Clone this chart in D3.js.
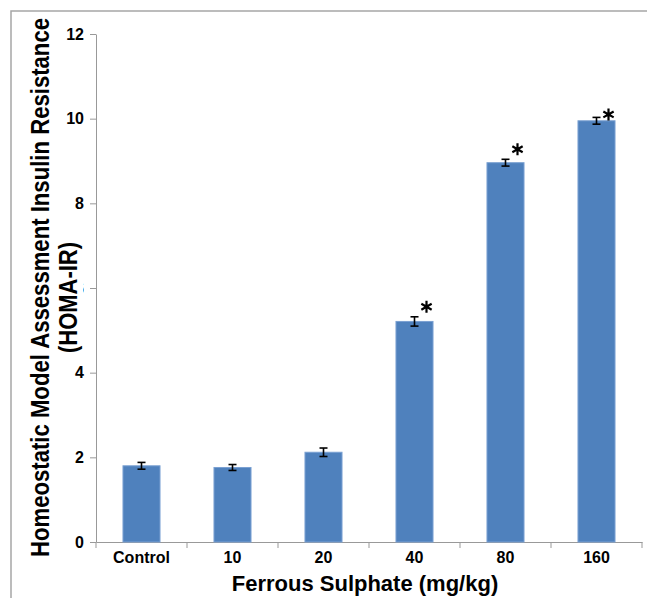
<!DOCTYPE html>
<html lang="en">
<head>
<meta charset="utf-8">
<title>HOMA-IR - Ferrous Sulphate</title>
<script src="https://d3js.org/d3.v7.min.js"></script>
<style>
  body { margin: 0; background: #fff; }
  svg text { font-family: "Liberation Sans", Arial, sans-serif; font-weight: bold; fill: #000; }
  .axis path, .axis line { stroke: #999; }
</style>
</head>
<body>
<div id="chart"></div>
<script>
  const categories = ["Control", "10", "20", "40", "80", "160"];
  const homaValues = [1.80, 1.76, 2.12, 5.21, 8.96, 9.95];
  const errorValues = [0.08, 0.07, 0.10, 0.11, 0.08, 0.08];
  const significant = [false, false, false, true, true, true];
  const yTicks = [0, 2, 4, 6, 8, 10, 12];

  const drawChart = () => {
    const width = 647, height = 598;
    const plotLeft = 96, plotRight = 642, plotTop = 34, plotBottom = 542;

    const svg = d3.select("#chart").append("svg")
        .attr("width", width)
        .attr("height", height);

    // outer frame (top and left edges only visible)
    svg.append("path")
        .attr("d", `M11,${height} V11 H${width}`)
        .attr("fill", "none")
        .attr("stroke", "#a6a6a6")
        .attr("stroke-width", 1.5);

    const x = d3.scaleBand()
        .domain(categories)
        .range([plotLeft, plotRight])
        .paddingInner(0.593)
        .paddingOuter(0.2965);

    const y = d3.scaleLinear()
        .domain([0, 12])
        .range([plotBottom, plotTop]);

    // y axis
    const yAxis = svg.append("g")
        .attr("class", "axis")
        .attr("transform", `translate(${plotLeft},0)`)
        .call(d3.axisLeft(y).tickValues(yTicks).tickSize(6).tickPadding(6).tickSizeOuter(0));
    yAxis.selectAll("text").style("font-size", "16px");

    // x axis, labels only; ticks drawn at band edges
    const xAxis = svg.append("g")
        .attr("class", "axis")
        .attr("transform", `translate(0,${plotBottom})`)
        .call(d3.axisBottom(x).tickSize(0).tickPadding(10).tickSizeOuter(0));
    xAxis.selectAll("text").style("font-size", "16px");

    const step = x.step();
    const edges = d3.range(categories.length + 1).map(i => plotLeft + i * step);
    xAxis.selectAll("line.edge")
        .data(edges)
        .join("line")
        .attr("class", "edge")
        .attr("x1", d => d).attr("x2", d => d)
        .attr("y1", 0).attr("y2", 6)
        .attr("stroke", "#999");

    const data = categories.map((c, i) => ({
      name: c, value: homaValues[i], err: errorValues[i], sig: significant[i]
    }));

    // bars
    svg.append("g")
        .selectAll("rect")
        .data(data)
        .join("rect")
        .attr("x", d => x(d.name))
        .attr("y", d => y(d.value))
        .attr("width", x.bandwidth())
        .attr("height", d => y(0) - y(d.value))
        .attr("fill", "#4f81bd")
        .attr("stroke", "#7aa0d2")
        .attr("stroke-width", 1);

    // error bars
    const cap = 4;
    const eb = svg.append("g")
        .attr("stroke", "#000")
        .attr("stroke-width", 1.6)
        .selectAll("g")
        .data(data)
        .join("g")
        .attr("transform", d => `translate(${x(d.name) + x.bandwidth() / 2},0)`);
    eb.append("line")
        .attr("y1", d => y(d.value - d.err))
        .attr("y2", d => y(d.value + d.err));
    eb.append("line")
        .attr("x1", -cap).attr("x2", cap)
        .attr("y1", d => y(d.value + d.err))
        .attr("y2", d => y(d.value + d.err));
    eb.append("line")
        .attr("x1", -cap).attr("x2", cap)
        .attr("y1", d => y(d.value - d.err))
        .attr("y2", d => y(d.value - d.err));

    // significance asterisks
    const star = d3.symbol().type(d3.symbolAsterisk).size(100);
    svg.append("g")
        .selectAll("path")
        .data(data.filter(d => d.sig))
        .join("path")
        .attr("d", star)
        .attr("transform", d => {
          const cx = x(d.name) + x.bandwidth() / 2 + 12;
          const cy = Math.max(y(d.value + d.err) - 10, y(10.1));
          return `translate(${cx},${cy})`;
        })
        .attr("fill", "none")
        .attr("stroke", "#000")
        .attr("stroke-width", 2.2);

    // y axis title
    const midY = (plotTop + plotBottom) / 2;
    svg.append("rect")
        .attr("x", 56).attr("y", midY - 50)
        .attr("width", 27).attr("height", 122)
        .attr("fill", "#fff");
    svg.append("text")
        .attr("transform", `translate(49,${midY - 0.5}) rotate(-90)`)
        .attr("text-anchor", "middle")
        .style("font-family", "'Liberation Sans Narrow', 'Liberation Sans', Arial, sans-serif")
        .style("font-size", "25px")
        .attr("textLength", 539)
        .attr("lengthAdjust", "spacingAndGlyphs")
        .text("Homeostatic Model Assessment Insulin Resistance");
    svg.append("text")
        .attr("transform", `translate(77,${midY + 9.5}) rotate(-90)`)
        .attr("text-anchor", "middle")
        .style("font-family", "'Liberation Sans Narrow', 'Liberation Sans', Arial, sans-serif")
        .style("font-size", "25px")
        .attr("textLength", 111)
        .attr("lengthAdjust", "spacingAndGlyphs")
        .text("(HOMA-IR)");

    // x axis title
    svg.append("text")
        .attr("x", 365)
        .attr("y", 591)
        .attr("text-anchor", "middle")
        .style("font-size", "22px")
        .text("Ferrous Sulphate (mg/kg)");
  };

  drawChart();
</script>
</body>
</html>
